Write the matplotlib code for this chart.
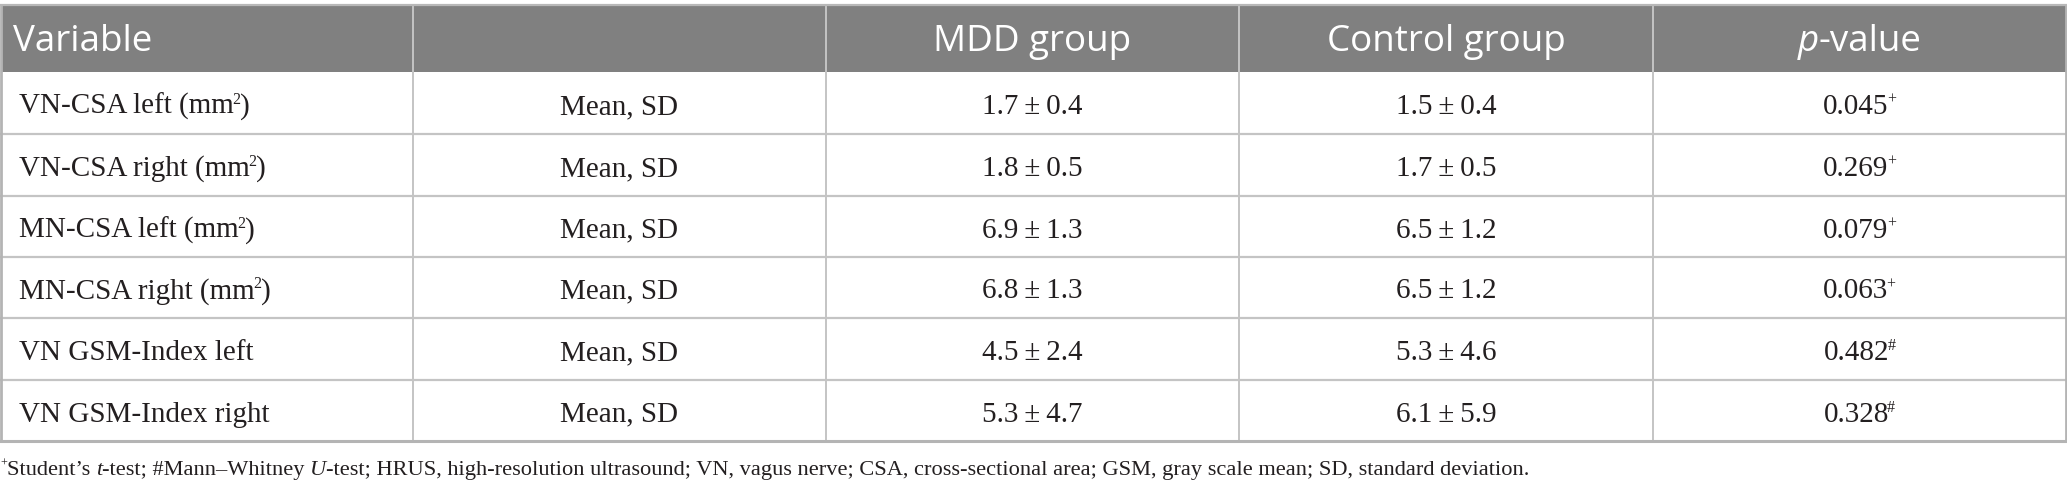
import matplotlib
matplotlib.use("Agg")
import matplotlib.pyplot as plt
from matplotlib.patches import Rectangle

# ---------------- data ----------------
headers = ["Variable", "", "MDD group", "Control group", "p-value"]
variables = ["VN-CSA left", "VN-CSA right", "MN-CSA left", "MN-CSA right",
             "VN GSM-Index left", "VN GSM-Index right"]
var_units = ["mm2", "mm2", "mm2", "mm2", "", ""]
stat_labels = ["Mean, SD"] * 6
mdd_mean = [1.7, 1.8, 6.9, 6.8, 4.5, 5.3]
mdd_sd = [0.4, 0.5, 1.3, 1.3, 2.4, 4.7]
ctrl_mean = [1.5, 1.7, 6.5, 6.5, 5.3, 6.1]
ctrl_sd = [0.4, 0.5, 1.2, 1.2, 4.6, 5.9]
p_values = ["0.045", "0.269", "0.079", "0.063", "0.482", "0.328"]
p_marks = ["+", "+", "+", "+", "#", "#"]

# ---------------- layout (pixels) ----------------
W, H = 2067, 493
col_edges = [1, 413, 826, 1239, 1653, 2066]
header_top, header_bot = 4.5, 72
row_lines = [72, 134, 196, 257, 318, 380, 441]
foot_y = 469

HEAD_BG = "#808080"
GRID = "#c4c4c4"
BORDER = "#b4b4b4"

fig = plt.figure(figsize=(W / 100, H / 100), dpi=100)
ax = fig.add_axes([0, 0, 1, 1])
ax.set_xlim(0, W)
ax.set_ylim(H, 0)
ax.axis("off")
fig.canvas.draw()
renderer = fig.canvas.get_renderer()

SERIF = "Liberation Serif"
SANS = "Open Sans"
BODY_FS = 21
HEAD_FS = 26.5
FOOT_FS = 16.1


def runs(x, y, parts, ha="left"):
    """parts: list of (text, dict(size, family, style, dy, dx, color))"""
    arts = []
    widths = []
    for txt, p in parts:
        t = ax.text(0, y + p.get("dy", 0), txt, fontsize=p["size"],
                    family=p["family"], style=p.get("style", "normal"),
                    color=p.get("color", "#231f20"), va="baseline", ha="left")
        bb = t.get_window_extent(renderer=renderer)
        arts.append(t)
        widths.append(bb.width + p.get("dx", 0))
    total = sum(widths)
    if ha == "center":
        cx = x - total / 2
    elif ha == "right":
        cx = x - total
    else:
        cx = x
    for (t, w), (_, p) in zip(zip(arts, widths), parts):
        t.set_x(cx + p.get("dx", 0))
        cx += w
    return arts


# header background
ax.add_patch(Rectangle((col_edges[0], header_top), col_edges[-1] - col_edges[0],
                       header_bot - header_top, facecolor=HEAD_BG, edgecolor="none", zorder=0))

# grid lines
for yl in row_lines[1:-1]:
    ax.plot([col_edges[0], col_edges[-1]], [yl, yl], color=GRID, lw=1.6, zorder=1)
ax.plot([col_edges[0], col_edges[-1]], [header_top, header_top], color="#b8b8b8", lw=1.6, zorder=2)
ax.plot([col_edges[0], col_edges[-1]], [row_lines[-1], row_lines[-1]], color=BORDER, lw=2.2, zorder=2)
for i, xe in enumerate(col_edges):
    lw = 2.0 if i in (0, len(col_edges) - 1) else 1.4
    col = BORDER if i in (0, len(col_edges) - 1) else GRID
    ax.plot([xe, xe], [header_top, row_lines[-1]], color=col, lw=lw, zorder=1)

# header texts
hbase = (header_top + header_bot) / 2 + 13
hp = dict(size=HEAD_FS, family=SANS, color="white")
runs(col_edges[0] + 12, hbase, [(headers[0], hp)])
for c in (2, 3):
    runs((col_edges[c] + col_edges[c + 1]) / 2, hbase, [(headers[c], hp)], ha="center")
runs((col_edges[4] + col_edges[5]) / 2, hbase,
     [("p", dict(hp, style="italic")), ("-value", hp)], ha="center")

# body
bp = dict(size=BODY_FS, family=SERIF)
sp = dict(size=BODY_FS * 0.55, family=SERIF, dy=-10, dx=-1.5)
for i in range(len(variables)):
    yc = (row_lines[i] + row_lines[i + 1]) / 2
    base = yc + 11
    if var_units[i]:
        parts = [(variables[i] + " (mm", bp), ("2", sp), (")", bp)]
    else:
        parts = [(variables[i], bp)]
    runs(col_edges[0] + 18, base, parts)
    runs((col_edges[1] + col_edges[2]) / 2, base, [(stat_labels[i], bp)], ha="center")
    runs((col_edges[2] + col_edges[3]) / 2, base,
         [(f"{mdd_mean[i]:.1f}\u2009±\u2009{mdd_sd[i]:.1f}", bp)], ha="center")
    runs((col_edges[3] + col_edges[4]) / 2, base,
         [(f"{ctrl_mean[i]:.1f}\u2009±\u2009{ctrl_sd[i]:.1f}", bp)], ha="center")
    runs((col_edges[4] + col_edges[5]) / 2, base,
         [(p_values[i], bp), (p_marks[i], dict(sp, dx=-2))], ha="center")

# footnote
fp = dict(size=FOOT_FS, family=SERIF)
fsp = dict(size=FOOT_FS * 0.55, family=SERIF, dy=-8, dx=-1)
fi = dict(fp, style="italic")
runs(1, foot_y + 6, [
    ("+", fsp), ("Student\u2019s ", fp), ("t", fi), ("-test; #Mann\u2013Whitney ", fp), ("U", fi),
    ("-test; HRUS, high-resolution ultrasound; VN, vagus nerve; CSA, cross-sectional area; "
     "GSM, gray scale mean; SD, standard deviation.", fp)])

fig.savefig("out.png", dpi=100, facecolor="white")
